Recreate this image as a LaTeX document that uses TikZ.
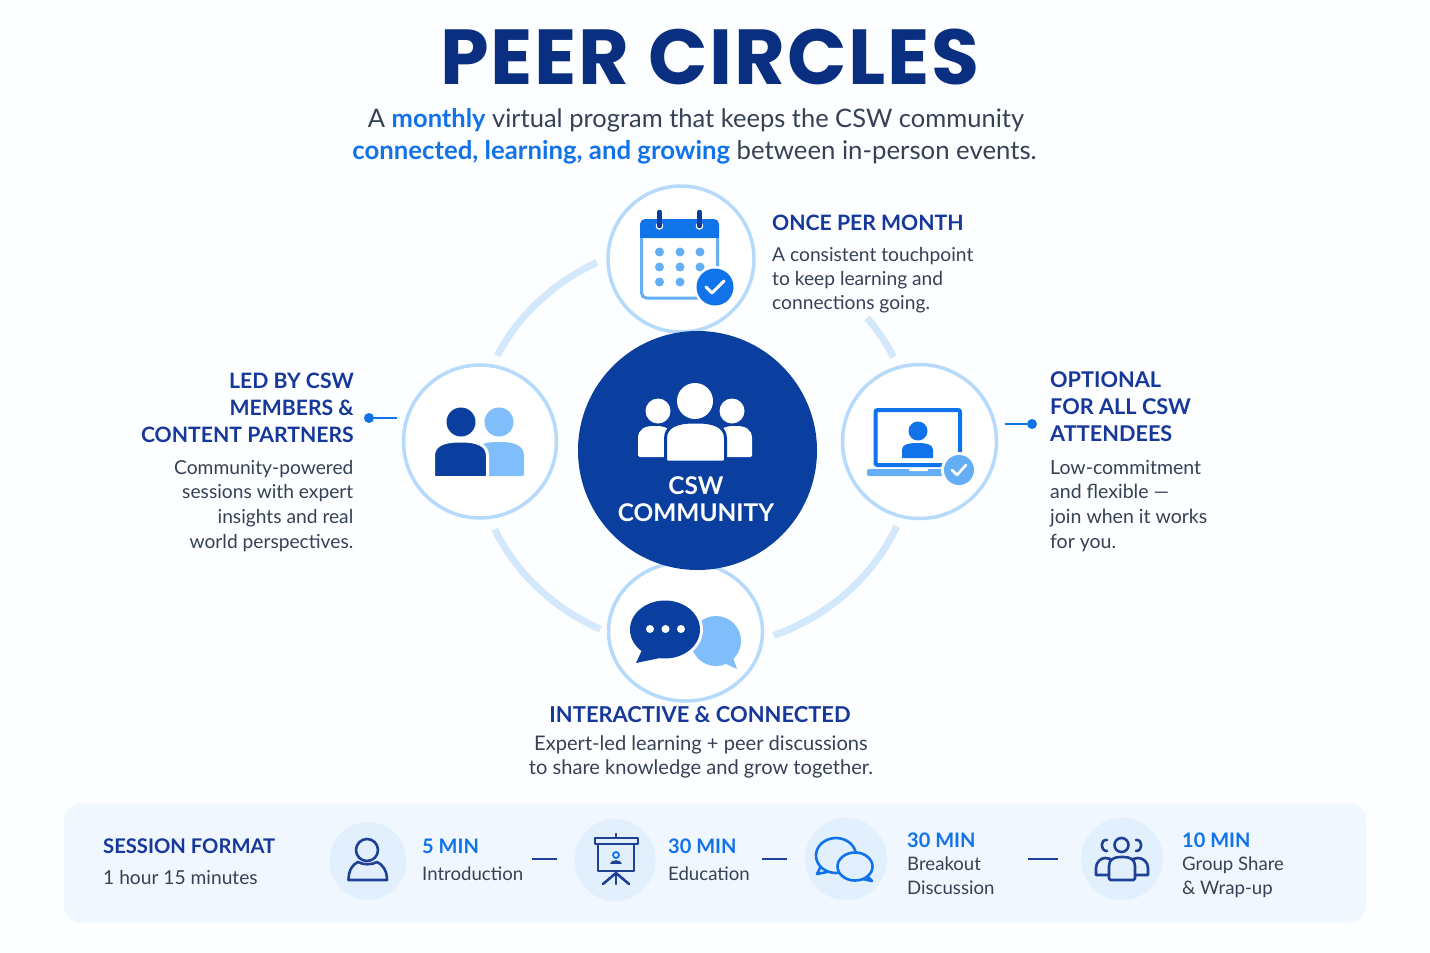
\documentclass[tikz,border=0pt]{standalone}
\usepackage{fontspec}
\usetikzlibrary{shapes.geometric}
\setmainfont{Lato}
\newfontfamily\titlefont[LetterSpace=2.4]{Poppins}
\definecolor{navy}{HTML}{0B2F80}
\definecolor{headblue}{HTML}{15389A}
\definecolor{royal}{HTML}{0A3FA0}
\definecolor{bright}{HTML}{1173EA}
\definecolor{sky}{HTML}{7FBDFB}
\definecolor{skymid}{HTML}{63AEF5}
\definecolor{ringc}{HTML}{B5DAFB}
\definecolor{arcc}{HTML}{D3E8FB}
\definecolor{bodyc}{HTML}{364155}
\definecolor{panelc}{HTML}{F1F7FE}
\definecolor{discc}{HTML}{E2EFFD}
\definecolor{iconc}{HTML}{1E4195}
\definecolor{pagec}{HTML}{FDFEFF}
\tikzset{
  x=1pt,y=-1pt,
  hub/.style={circle,draw=ringc,line width=3.5pt,fill=white,inner sep=0pt},
  orbit/.style={draw=arcc,line width=7pt},
  disc/.style={ellipse,fill=discc,inner sep=0pt},
  heading/.style={text=headblue,font=\fontsize{21.2}{27}\selectfont\bfseries,inner sep=0pt},
  bodytext/.style={text=bodyc,font=\fontsize{19.3}{24.4}\selectfont,inner sep=0pt},
  minlabel/.style={text=bright,font=\fontsize{20}{24}\selectfont\bfseries,inner sep=0pt,anchor=base west},
  steptext/.style={text=bodyc,font=\fontsize{18.6}{24}\selectfont,inner sep=0pt},
  stub/.style={draw=bright,line width=2.5pt},
  stepdash/.style={draw=iconc,line width=2.5pt},
  outline/.style={draw=iconc,line width=2.6pt,line join=round,line cap=round},
}
\def\domepath#1#2#3#4{({#1},{#4}) -- ({#1},{#3+0.45*(#4-#3)}) .. controls ({#1},{#3+0.1*(#4-#3)}) and ({#1+0.2*(#2-#1)},{#3}) .. ({0.5*(#1+#2)},{#3}) .. controls ({#2-0.2*(#2-#1)},{#3}) and ({#2},{#3+0.1*(#4-#3)}) .. ({#2},{#3+0.45*(#4-#3)}) -- ({#2},{#4}) -- cycle}
\begin{document}
\begin{tikzpicture}
\useasboundingbox (0,0) rectangle (1430,953);
\fill[pagec] (0,0) rectangle (1430,953);

% title
\node[anchor=base,inner sep=0pt,text=navy,font=\fontsize{78}{79}\selectfont\titlefont\bfseries] (title) at (710,84) {PEER CIRCLES};
\node[anchor=base,inner sep=0pt,text=bodyc,font=\fontsize{25.5}{32}\selectfont] (sub1) at (696,127) {A \textcolor{bright}{\bfseries monthly} virtual program that keeps the CSW community};
\node[anchor=base,inner sep=0pt,text=bodyc,font=\fontsize{25.75}{32}\selectfont] (sub2) at (694.5,159) {\textcolor{bright}{\bfseries connected, learning, and growing} between in-person events.};

% orbit
\draw[orbit] plot[domain=116.5:154,samples=30] ({695+220*cos(\x)},{445-204*sin(\x)});
\draw[orbit] plot[domain=204.5:244.5,samples=30] ({695+220*cos(\x)},{445-204*sin(\x)});
\draw[orbit] plot[domain=291:336.5,samples=30] ({695+220*cos(\x)},{445-204*sin(\x)});
\draw[orbit] plot[domain=25.5:38.5,samples=12] ({695+220*cos(\x)},{445-204*sin(\x)});

% hubs
\node[hub,minimum size=146pt] (top) at (681,259) {};
\node[hub,minimum size=153pt] (left) at (480,441.5) {};
\node[hub,minimum size=154pt] (right) at (919.5,441.5) {};
\node[hub,ellipse,minimum width=154pt,minimum height=139pt] (bottom) at (685.5,631.5) {};
\node[circle,fill=royal,minimum size=239pt,inner sep=0pt] (core) at (697.5,450.5) {};

% core icon
\fill[white] (658,411) circle (12.5);
\fill[white] (732,411) circle (12.5);
\fill[white,rounded corners=1.5pt] \domepath{638}{672}{426}{457};
\fill[white,rounded corners=1.5pt] \domepath{718}{752}{426}{457};
\fill[white] (695,401) circle (18);
\filldraw[fill=white,draw=royal,line width=3pt,rounded corners=1.5pt] \domepath{665.5}{725.5}{422}{462};
\node[anchor=base,inner sep=0pt,text=white,font=\fontsize{24.4}{27}\selectfont\bfseries] (coreA) at (696,494) {CSW};
\node[anchor=base,inner sep=0pt,text=white,font=\fontsize{24.4}{27}\selectfont\bfseries] (coreB) at (696,521) {COMMUNITY};

% calendar icon
\draw[skymid,line width=3pt,rounded corners=5pt] (641.5,225) rectangle (717.5,298);
\fill[bright,rounded corners=5pt] (640,219) rectangle (719,238);
\fill[bright] (640,228) rectangle (719,238);
\foreach \cx in {659.5,699.5}{
  \fill[white] (\cx,226) circle (3.8);
  \draw[royal,line width=4.5pt,line cap=round] (\cx,212) -- (\cx,226);
}
\foreach \cy in {252,267,282}{\foreach \cx in {659.5,680,700}{\fill[skymid] (\cx,\cy) circle (4.5);}}
\fill[white] (715,287) circle (21);
\fill[bright] (715,287) circle (18.5);
\draw[white,line width=3pt,line cap=round,line join=round] (706,287) -- (712,293) -- (724,281);

% two people icon
\fill[sky] (499,422) circle (14.5);
\fill[sky,rounded corners=1.5pt] \domepath{474}{524}{442}{476};
\fill[royal] (461,422) circle (14.5);
\filldraw[fill=royal,draw=white,line width=3pt,rounded corners=1.5pt] \domepath{433.5}{487.5}{441}{477.5};

% laptop icon
\draw[bright,line width=4pt,rounded corners=2pt] (875.5,465) -- (875.5,410) -- (960,410) -- (960,465) -- cycle;
\fill[bright] (918,431) circle (9.5);
\fill[bright] \domepath{902}{933}{443}{458};
\fill[skymid,rounded corners=2pt] (867,469) rectangle (943,476);
\fill[white,rounded corners=1pt] (909,468) rectangle (928,471);
\fill[white] (959,470) circle (18);
\fill[skymid] (959,470) circle (15);
\draw[white,line width=2.6pt,line cap=round,line join=round] (952,470) -- (957,475) -- (966,465);

% chat icon
\fill[sky] (716,641) ellipse (25 and 25);
\fill[sky] (722,662) -- (737,669) -- (731,652) -- cycle;
\fill[white] (665,629.5) ellipse (38 and 32);
\fill[royal] (665,629.5) ellipse (35 and 29);
\fill[royal,line join=round] (642,650) -- (636,663) -- (660,658) -- cycle;
\foreach \cx in {650,665.5,681}{\fill[white] (\cx,629) circle (4);}

% side labels
\node[heading,anchor=base west] (topH) at (772,230) {ONCE PER MONTH};
\node[bodytext,anchor=base west,align=left,font=\fontsize{19.2}{24}\selectfont] (topB) at (772,309.5) {A consistent touchpoint\\to keep learning and\\connections going.};
\node[heading,anchor=base east,align=right] (leftH) at (354,442) {LED BY CSW\\MEMBERS \&\\CONTENT PARTNERS};
\node[bodytext,anchor=base east,align=right,font=\fontsize{19.2}{24.6}\selectfont] (leftB) at (353.5,548) {Community-powered\\sessions with expert\\insights and real\\world perspectives.};
\node[heading,anchor=base west,align=left,font=\fontsize{21.7}{27}\selectfont\bfseries] (rightH) at (1050,441) {OPTIONAL\\FOR ALL CSW\\ATTENDEES};
\node[bodytext,anchor=base west,align=left,font=\fontsize{19.5}{24.6}\selectfont] (rightB) at (1050,548) {Low-commitment\\and flexible —\\join when it works\\for you.};
\node[heading,anchor=base,font=\fontsize{21.9}{27}\selectfont\bfseries] (botH) at (700,722) {INTERACTIVE \& CONNECTED};
\node[bodytext,anchor=base,align=center,font=\fontsize{20.1}{24}\selectfont] (botB) at (701,774) {Expert-led learning + peer discussions\\to share knowledge and grow together.};

% stubs
\coordinate (lstub) at (397,418);
\node[circle,fill=bright,minimum size=10pt,inner sep=0pt] (ldot) at (369,418) {};
\draw[stub] (ldot) -- (lstub);
\coordinate (rstub) at (1005,424);
\node[circle,fill=bright,minimum size=10pt,inner sep=0pt] (rdot) at (1032,424) {};
\draw[stub] (rstub) -- (rdot);

% panel
\node[fill=panelc,rounded corners=18pt,minimum width=1302pt,minimum height=120pt,inner sep=0pt] (panel) at (715,863) {};
\node[text=headblue,font=\fontsize{20.2}{24}\selectfont\bfseries,inner sep=0pt,anchor=base west] (sfA) at (103,853) {SESSION FORMAT};
\node[steptext,anchor=base west,font=\fontsize{19.2}{24}\selectfont] (sfB) at (103,884) {1 hour 15 minutes};

\node[disc,minimum width=77pt,minimum height=78pt] (d1) at (368,861) {};
\node[disc,minimum width=81pt,minimum height=82pt] (d2) at (615,860) {};
\node[disc,minimum width=82pt,minimum height=82pt] (d3) at (846,859) {};
\node[disc,minimum width=82pt,minimum height=82pt] (d4) at (1122,859) {};

% step 1
\node[minlabel] (m1) at (422,853) {5 MIN};
\node[steptext,anchor=base west] (s1) at (422,880) {Introduction};
\coordinate (a1) at (532,859); \coordinate (b1) at (557,859);
\draw[stepdash] (a1) -- (b1);
% step 2
\node[minlabel] (m2) at (668,853) {30 MIN};
\node[steptext,anchor=base west] (s2) at (668,880) {Education};
\coordinate (a2) at (762,859); \coordinate (b2) at (787,859);
\draw[stepdash] (a2) -- (b2);
% step 3
\node[minlabel] (m3) at (907,847) {30 MIN};
\node[steptext,anchor=base west,align=left] (s3) at (907,894) {Breakout\\Discussion};
\coordinate (a3) at (1028,859); \coordinate (b3) at (1058,859);
\draw[stepdash] (a3) -- (b3);
% step 4
\node[minlabel] (m4) at (1182,847) {10 MIN};
\node[steptext,anchor=base west,align=left] (s4) at (1182,894) {Group Share\\\& Wrap-up};

% person outline
\draw[outline] (367,850) ellipse (11 and 11);
\draw[outline] (348.5,880) .. controls (348.5,870) and (353,864) .. (358,862) .. controls (363,865) and (372,865) .. (377,862) .. controls (382,864) and (387,870) .. (387,880) -- cycle;

% presentation board
\draw[outline] (595,838) rectangle (638,844);
\draw[outline] (598,844) -- (598,871) -- (634,871) -- (634,844);
\draw[outline] (616,871) -- (616,884);
\draw[outline] (616,873) -- (603,884);
\draw[outline] (616,873) -- (629,884);
\draw[outline] (616,834) -- (616,837);
\draw[draw=bright,line width=1.8pt] (616,855) circle (3);
\fill[iconc] (610,864) .. controls (610,859) and (622,859) .. (622,864) -- cycle;

% chat outlines
\begin{scope}[draw=bright,line width=2.6pt,line join=round,fill=discc]
\filldraw (822,864) -- (817,874) -- (832,871) -- cycle;
\filldraw (836,855.5) ellipse (20 and 17.5);
\filldraw (866,875) -- (872,881) -- (858,878) -- cycle;
\filldraw (855,866.5) ellipse (17.5 and 14);
\end{scope}

% group outline
\draw[outline] (1121.5,845) circle (7);
\draw[outline] (1107,840) .. controls (1100,839) and (1100,851) .. (1107,851);
\draw[outline] (1136,840) .. controls (1143,839) and (1143,851) .. (1136,851);
\filldraw[outline,fill=discc] (1096,875) -- (1096,868) .. controls (1096,862) and (1101,858) .. (1105,858) .. controls (1112,858) and (1115,862) .. (1115,868) -- (1115,875) -- cycle;
\filldraw[outline,fill=discc] (1128,875) -- (1128,868) .. controls (1128,862) and (1132,858) .. (1138,858) .. controls (1143,858) and (1148,862) .. (1148,868) -- (1148,875) -- cycle;
\filldraw[outline,fill=discc,rounded corners=1.5pt] \domepath{1109}{1135}{857}{880};
\end{tikzpicture}
\end{document}
